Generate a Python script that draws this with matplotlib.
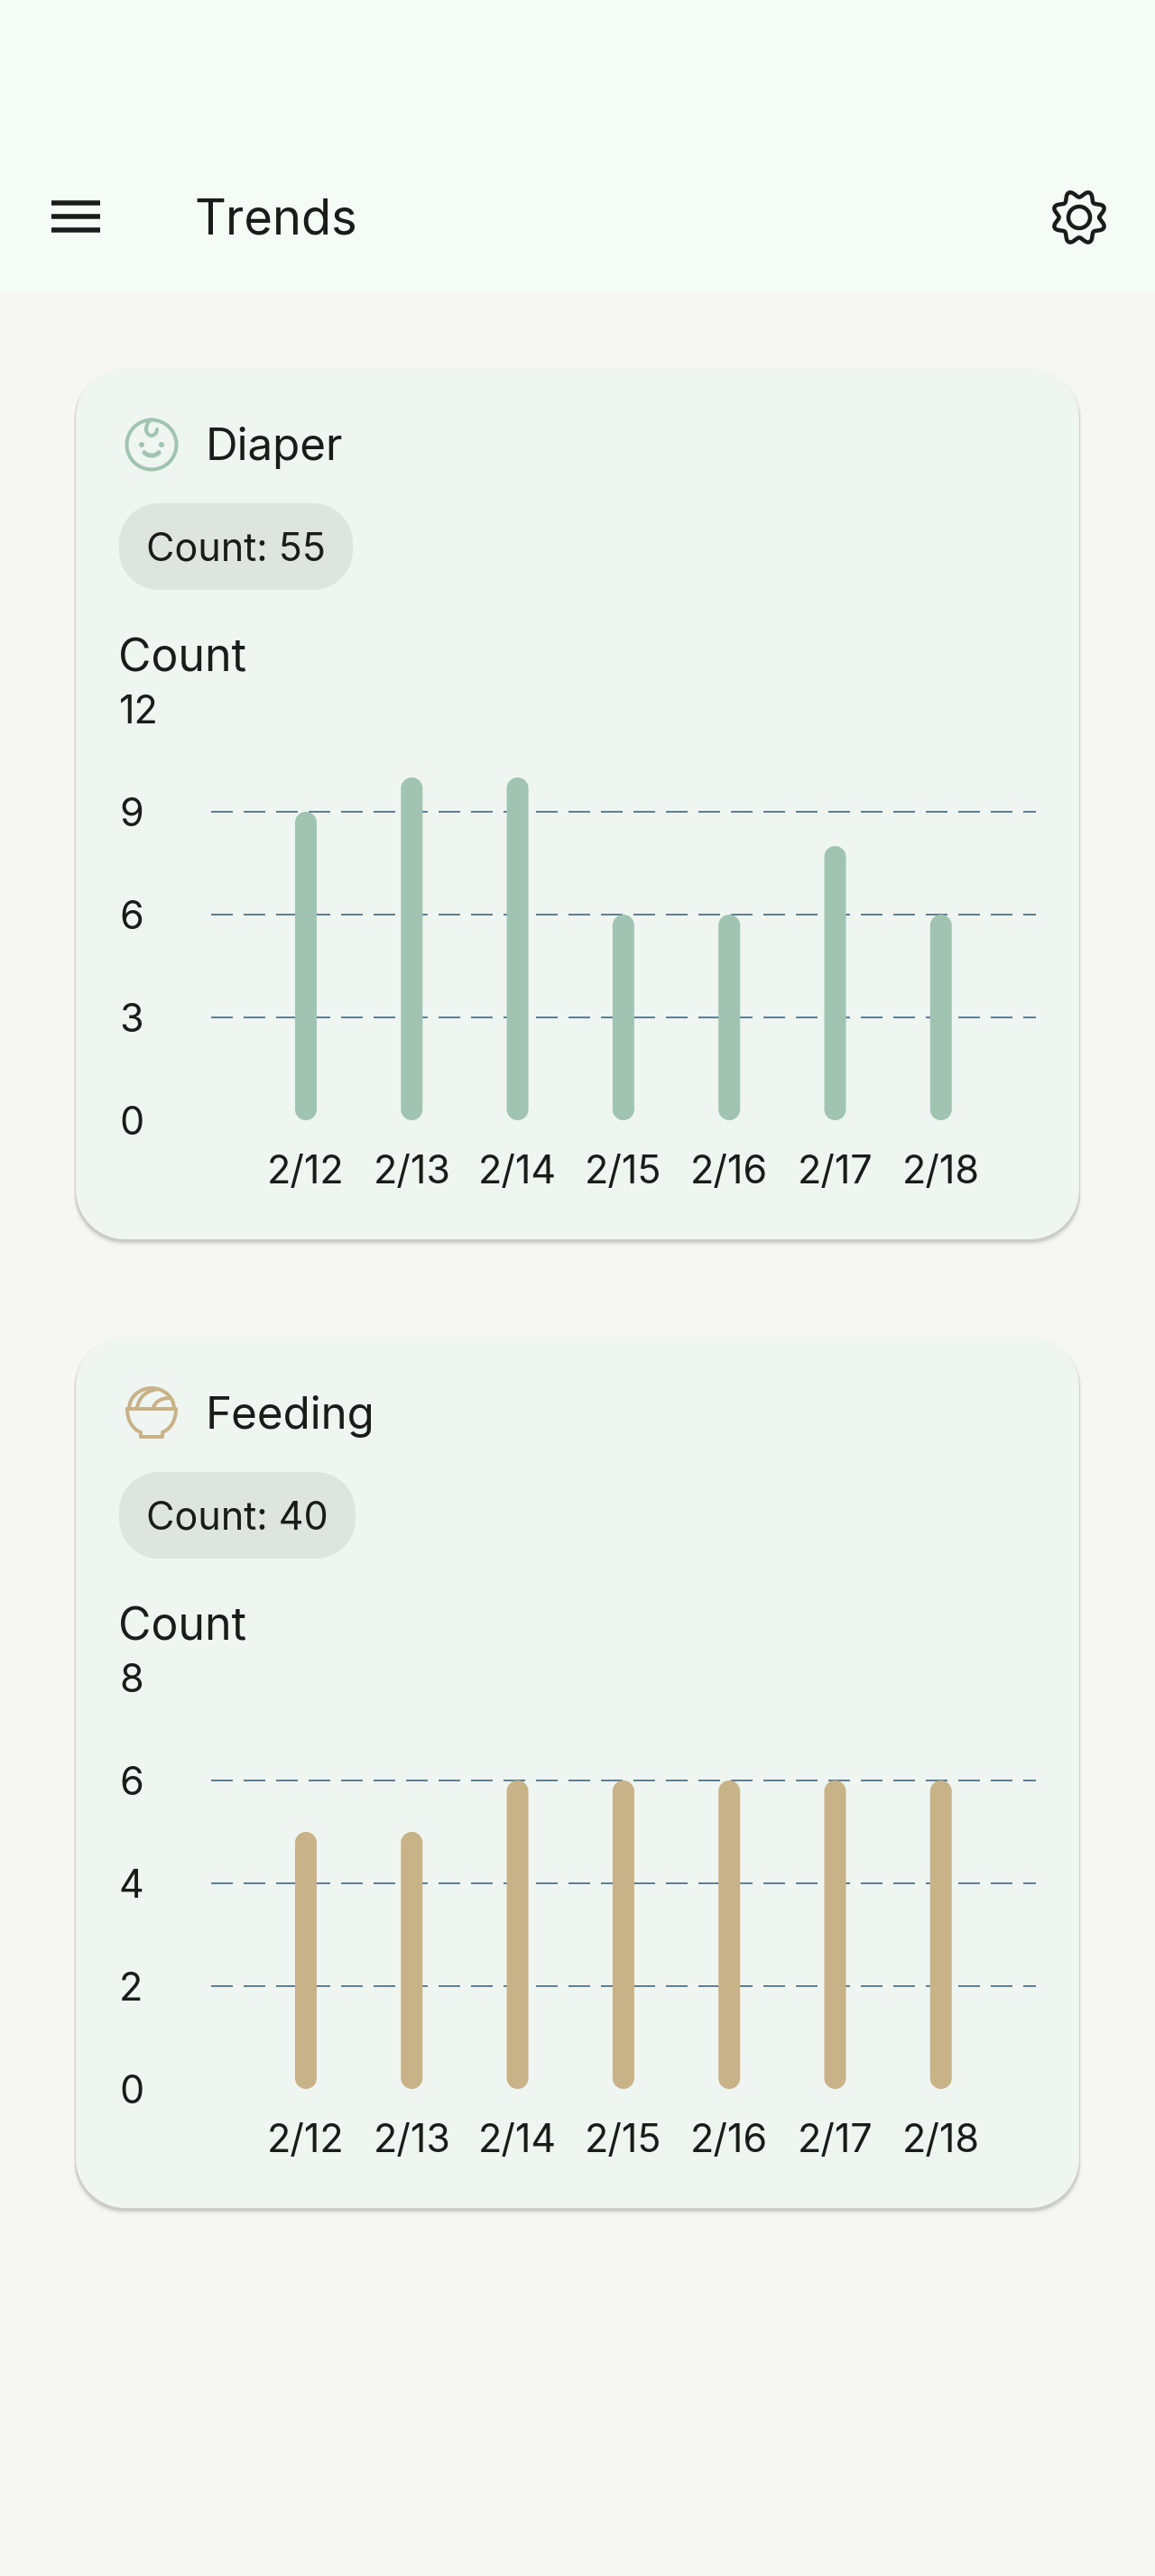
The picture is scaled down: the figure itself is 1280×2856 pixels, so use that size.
from matplotlib import pyplot as plt
from matplotlib.patches import Circle, Arc, PathPatch, Rectangle
from matplotlib.path import Path
import numpy as np

plt.rcParams['font.family'] = ['Inter', 'DejaVu Sans']

dates = ["2/12", "2/13", "2/14", "2/15", "2/16", "2/17", "2/18"]
diaper_counts = [9, 10, 10, 6, 6, 8, 6]
feeding_counts = [5, 5, 6, 6, 6, 6, 6]
diaper_ticks = [0, 3, 6, 9, 12]
feeding_ticks = [0, 2, 4, 6, 8]
diaper_total = 55
feeding_total = 40

PAGE = "#f6f6f4"
TOPBAR = "#f5fcf5"
CARD = "#eff5f1"
CHIP = "#dee4e0"
INK = "#1a1c1a"
GRID = "#5f7f93"
GREEN = "#a0c4b1"
TAN = "#c8b287"

W, H = 1280, 2856
PX = 0.72  # points per pixel at dpi 100
CARD_STEP = 1074

fig = plt.figure(figsize=(W / 100, H / 100), dpi=100, facecolor=PAGE)
bg = fig.add_axes([0, 0, 1, 1])
bg.set_xlim(0, W)
bg.set_ylim(H, 0)
bg.axis("off")


def round_box(x0, y0, x1, y1, rx, ry):
    # rounded rectangle with proper circular corners, FancyBboxPatch ones look too square
    k = 0.5523
    verts = [(x0 + rx, y0), (x1 - rx, y0),
             (x1 - rx + k * rx, y0), (x1, y0 + ry - k * ry), (x1, y0 + ry),
             (x1, y1 - ry),
             (x1, y1 - ry + k * ry), (x1 - rx + k * rx, y1), (x1 - rx, y1),
             (x0 + rx, y1),
             (x0 + rx - k * rx, y1), (x0, y1 - ry + k * ry), (x0, y1 - ry),
             (x0, y0 + ry),
             (x0, y0 + ry - k * ry), (x0 + rx - k * rx, y0), (x0 + rx, y0),
             (x0 + rx, y0)]
    codes = [Path.MOVETO, Path.LINETO] + [Path.CURVE4] * 3 + [Path.LINETO] + [Path.CURVE4] * 3 + \
            [Path.LINETO] + [Path.CURVE4] * 3 + [Path.LINETO] + [Path.CURVE4] * 3 + [Path.CLOSEPOLY]
    return Path(verts, codes)


def rounded(x, y, w, h, r, color, zorder=1, alpha=1.0):
    bg.add_patch(PathPatch(round_box(x, y, x + w, y + h, r, r), fc=color, ec="none",
                           zorder=zorder, alpha=alpha))


def stroke(verts, codes, color, lw):
    bg.add_patch(PathPatch(Path(verts, codes), fc="none", ec=color, lw=lw, zorder=5,
                           joinstyle="round", capstyle="round"))


def draw_face(cx, cy, color):
    lw = 4 * PX
    bg.add_patch(Circle((cx, cy), 27.5, fc="none", ec=color, lw=lw, zorder=5))
    bg.add_patch(Circle((cx - 11, cy), 3, fc=color, ec="none", zorder=5))
    bg.add_patch(Circle((cx + 11, cy), 3, fc=color, ec="none", zorder=5))
    bg.add_patch(Arc((cx, cy + 4), 20, 16, theta1=30, theta2=150, ec=color, lw=5 * PX,
                     capstyle="round", zorder=5))
    # curl of hair
    curl = [(cx, cy - 28), (cx - 4, cy - 26), (cx - 6, cy - 21), (cx - 6, cy - 17),
            (cx - 6, cy - 13), (cx - 3, cy - 10), (cx, cy - 10),
            (cx + 3, cy - 10), (cx + 6, cy - 13), (cx + 6, cy - 17)]
    stroke(curl, [Path.MOVETO] + [Path.CURVE4] * 9, color, lw)


def draw_bowl(cx, cy, color):
    lw = 4 * PX
    rim = cy - 5
    body = [(cx - 27, rim), (cx + 27, rim),
            (cx + 27, rim + 14), (cx + 20, rim + 23), (cx + 12, rim + 26),
            (cx + 12, rim + 31), (cx - 12, rim + 31), (cx - 12, rim + 26),
            (cx - 20, rim + 23), (cx - 27, rim + 14), (cx - 27, rim)]
    codes = [Path.MOVETO, Path.LINETO] + [Path.CURVE4] * 3 + [Path.LINETO] * 3 + [Path.CURVE4] * 3
    stroke(body, codes, color, lw)
    bg.add_patch(Arc((cx, rim), 50, 46, theta1=180, theta2=360, ec=color, lw=lw, zorder=5))
    q = [Path.MOVETO, Path.CURVE3, Path.CURVE3]
    stroke([(cx - 16, rim - 2), (cx - 12, rim - 20), (cx + 8, rim - 22)], q, color, lw)
    stroke([(cx + 2, rim - 2), (cx + 6, rim - 12), (cx + 20, rim - 12)], q, color, lw)


def draw_card(top, title, total, chip_w, values, ticks, color, draw_icon):
    left, width, height = 84, 1112, 966
    # soft shadow below the card
    for grow, alpha in [(5, 0.03), (3, 0.05), (1.5, 0.09)]:
        rounded(left - grow / 2, top + 2, width + grow, height + grow, 55, "#000000", 1, alpha)
    rounded(left, top, width, height, 55, CARD, 2)
    draw_icon(168, top + 85, color)
    bg.text(228, top + 102, title, fontsize=35.5, color=INK, va="baseline", zorder=3)
    rounded(132, top + 150, chip_w, 96, 44, CHIP, 3)
    bg.text(162, top + 214, f"Count: {total}", fontsize=31, color=INK, va="baseline", zorder=4)
    bg.text(131.5, top + 336.5, "Count", fontsize=36, color=INK, va="baseline", zorder=3)

    # plot area, ticks sit on the top and bottom edge
    ax_top = top + 378
    ax_bottom = top + 834
    ax = fig.add_axes([234 / W, 1 - ax_bottom / H, (1148 - 234) / W, (ax_bottom - ax_top) / H])
    ax.patch.set_alpha(0)
    ax.set_zorder(2)
    ax.set_xlim(-0.895, 6.897)
    ax.set_ylim(ticks[0], ticks[-1])
    for side in ax.spines.values():
        side.set_visible(False)

    ax.hlines(ticks[1:-1], -0.895, 6.897, color=GRID, lw=2 * PX,
              linestyle=(0, (12, 6)), zorder=1)

    xs = np.arange(len(dates))
    px_per_x = 117.3
    px_per_y = (ax_bottom - ax_top) / (ticks[-1] - ticks[0])
    bar_w = 24 / px_per_x
    for x, v in zip(xs, values):
        path = round_box(x - bar_w / 2, 0, x + bar_w / 2, v, 12 / px_per_x, 12 / px_per_y)
        ax.add_patch(PathPatch(path, fc=color, ec="none", zorder=2))

    ax.set_xticks(xs, dates)
    ax.set_yticks(ticks)
    ax.tick_params(axis="x", length=0, pad=38 * PX, labelsize=31, labelcolor=INK)
    ax.tick_params(axis="y", length=0, pad=(234 - 132) * PX, labelsize=31, labelcolor=INK)
    for label in ax.get_yticklabels():
        label.set_horizontalalignment("left")


# top bar
bg.add_patch(Rectangle((0, 0), W, 324, fc=TOPBAR, ec="none", zorder=0))
for y in [225, 240, 255]:
    bg.plot([57, 111], [y, y], color=INK, lw=5.5 * PX, solid_capstyle="butt")
bg.text(215, 260, "Trends", fontsize=39, color=INK, va="baseline")

# settings gear
theta = np.linspace(0, 2 * np.pi, 400)
gear_r = 26 + 3.6 * np.cos(8 * (theta - np.pi / 8))
bg.plot(1196 + gear_r * np.cos(theta), 241 + gear_r * np.sin(theta), color=INK, lw=4.5 * PX)
bg.add_patch(Circle((1196, 241), 12, fc="none", ec=INK, lw=4.5 * PX))

draw_card(408, "Diaper", diaper_total, 259, diaper_counts, diaper_ticks, GREEN, draw_face)
draw_card(408 + CARD_STEP, "Feeding", feeding_total, 262, feeding_counts, feeding_ticks, TAN, draw_bowl)

fig.savefig("out.png", dpi=100, facecolor=PAGE)
